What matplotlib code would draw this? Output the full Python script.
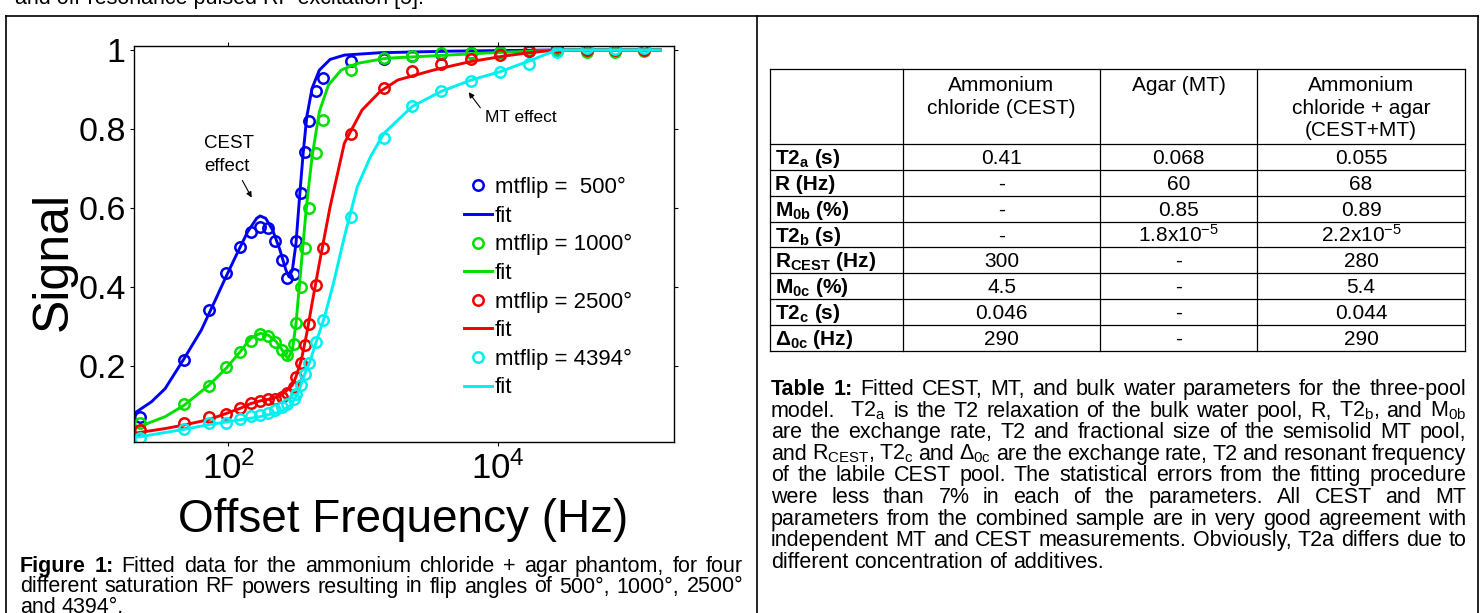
import matplotlib
matplotlib.use("Agg")
import matplotlib.pyplot as plt
from matplotlib.lines import Line2D
from matplotlib.ticker import NullLocator, LogFormatterSciNotation

plt.rcParams["font.family"] = ["Liberation Sans", "DejaVu Sans"]
plt.rcParams["mathtext.fontset"] = "custom"
plt.rcParams["mathtext.rm"] = "Liberation Sans"
plt.rcParams["mathtext.it"] = "Liberation Sans:italic"
plt.rcParams["mathtext.bf"] = "Liberation Sans:bold"
plt.rcParams["mathtext.default"] = "regular"

# measured points (offset frequency in Hz, normalised signal)
offsets = [22, 47, 72, 96, 122, 146, 172, 198, 220, 248, 272, 304, 317, 347, 369,
           397, 443, 501, 806, 1413, 2300, 3760, 6300, 10300, 17000, 27000, 45000,
           73000, 120000]
sig_500 = [0.072, 0.215, 0.342, 0.436, 0.502, 0.540, 0.553, 0.549, 0.517, 0.468,
           0.424, 0.433, 0.517, 0.639, 0.743, 0.819, 0.895, 0.928, 0.972, 0.976,
           0.985, 0.990, 0.993, 0.996, 0.998, 1.0, 1.0, 1.0, 1.0]
sig_1000 = [0.055, 0.104, 0.149, 0.197, 0.236, 0.264, 0.281, 0.276, 0.262, 0.241,
            0.228, 0.257, 0.308, 0.401, 0.500, 0.599, 0.740, 0.824, 0.949, 0.979,
            0.985, 0.992, 0.992, 0.995, 1.0, 1.0, 0.996, 0.996, 0.998]
sig_2500 = [0.038, 0.055, 0.070, 0.080, 0.095, 0.107, 0.112, 0.116, 0.118, 0.122,
            0.131, 0.148, 0.173, 0.208, 0.253, 0.306, 0.405, 0.500, 0.787, 0.903,
            0.948, 0.965, 0.976, 0.987, 0.998, 1.007, 1.0, 1.0, 1.0]
sig_4394 = [0.019, 0.040, 0.055, 0.057, 0.065, 0.073, 0.076, 0.082, 0.089, 0.097,
            0.105, 0.116, 0.129, 0.152, 0.179, 0.207, 0.262, 0.316, 0.578, 0.776,
            0.857, 0.895, 0.922, 0.943, 0.965, 0.996, 1.004, 1.002, 1.004]

# fitted curves
fit_f_500 = [20, 27, 34, 47, 63, 80, 96, 116, 139, 162, 172, 189, 213, 241, 267, 281,
             298, 317, 337, 358, 381, 417, 472, 567, 723, 1331, 4500, 28000, 158000]
fit_500 = [0.080, 0.110, 0.143, 0.219, 0.291, 0.367, 0.426, 0.485, 0.540, 0.574, 0.580,
           0.574, 0.544, 0.494, 0.443, 0.426, 0.443, 0.511, 0.629, 0.738, 0.831, 0.903,
           0.949, 0.976, 0.987, 0.993, 0.997, 1.0, 1.0]
fit_f_1000 = [20, 34, 47, 72, 96, 122, 146, 172, 198, 226, 256, 276, 298, 317, 337, 358,
              381, 417, 472, 551, 684, 902, 1470, 3710, 7900, 15000, 28000, 158000]
fit_1000 = [0.042, 0.072, 0.101, 0.152, 0.194, 0.236, 0.270, 0.283, 0.278, 0.262, 0.236,
            0.219, 0.241, 0.308, 0.409, 0.511, 0.612, 0.730, 0.844, 0.911, 0.949, 0.966,
            0.979, 0.986, 0.992, 0.996, 1.0, 1.0]
fit_f_2500 = [20, 34, 47, 72, 96, 122, 146, 172, 213, 248, 272, 298, 317, 347, 381, 417,
              472, 567, 723, 978, 1331, 1800, 3300, 6100, 11200, 17000, 27000, 158000]
fit_2500 = [0.030, 0.042, 0.051, 0.065, 0.080, 0.093, 0.105, 0.112, 0.118, 0.127, 0.139,
            0.152, 0.173, 0.215, 0.283, 0.359, 0.460, 0.603, 0.764, 0.848, 0.895, 0.924,
            0.949, 0.970, 0.985, 0.993, 1.0, 1.0]
fit_f_4394 = [20, 47, 72, 116, 172, 241, 290, 327, 369, 405, 443, 516, 600, 723, 902,
              1130, 1420, 2300, 3760, 6300, 10300, 17200, 27000, 158000]
fit_4394 = [0.019, 0.040, 0.052, 0.063, 0.072, 0.084, 0.101, 0.131, 0.181, 0.215, 0.257,
            0.325, 0.409, 0.527, 0.654, 0.730, 0.789, 0.857, 0.895, 0.924, 0.945, 0.973,
            1.0, 1.0]

flips = ["500", "1000", "2500", "4394"]
colors = ["#0000f0", "#00e000", "#f00000", "#00f0f0"]

# table 1
col_heads = [["Ammonium", "chloride (CEST)"], ["Agar (MT)"],
             ["Ammonium", "chloride + agar", "(CEST+MT)"]]
row_names = [r"T2$_{a}$ (s)", "R (Hz)", r"M$_{0b}$ (%)", r"T2$_{b}$ (s)",
             r"R$_{CEST}$ (Hz)", r"M$_{0c}$ (%)", r"T2$_{c}$ (s)", r"Δ$_{0c}$ (Hz)"]
col_cest = ["0.41", "-", "-", "-", "300", "4.5", "0.046", "290"]
col_agar = ["0.068", "60", "0.85", r"1.8x10$^{-5}$", "-", "-", "-", "-"]
col_both = ["0.055", "68", "0.89", r"2.2x10$^{-5}$", "280", "5.4", "0.044", "290"]

fig_caption = [
    "Figure 1: Fitted data for the ammonium chloride + agar phantom, for four",
    "different saturation RF powers resulting in flip angles of 500°, 1000°, 2500°",
    "and 4394°.",
]
table_caption = [
    "Table 1: Fitted CEST, MT, and bulk water parameters for the three-pool",
    r"model.  T2$_{a}$ is the T2 relaxation of the bulk water pool, R, T2$_{b}$, and M$_{0b}$",
    "are the exchange rate, T2 and fractional size of the semisolid MT pool,",
    r"and R$_{CEST}$, T2$_{c}$ and Δ$_{0c}$ are the exchange rate, T2 and resonant frequency",
    "of the labile CEST pool. The statistical errors from the fitting procedure",
    "were less than 7% in each of the parameters. All CEST and MT",
    "parameters from the combined sample are in very good agreement with",
    "independent MT and CEST measurements. Obviously, T2a differs due to",
    "different concentration of additives.",
]

W, H = 1480, 613
fig = plt.figure(figsize=(W / 100, H / 100), dpi=100)
BODY = 15.5


def fx(x):
    return x / W


def fy(y):
    return 1 - y / H


def hline(x0, x1, y, lw=1.2):
    fig.add_artist(Line2D([fx(x0), fx(x1)], [fy(y), fy(y)], transform=fig.transFigure,
                          color="k", lw=lw))


def vline(x, y0, y1, lw=1.2):
    fig.add_artist(Line2D([fx(x), fx(x)], [fy(y0), fy(y1)], transform=fig.transFigure,
                          color="k", lw=lw))


# page frame
hline(6, 1478, 15.5)
vline(6, 15.5, 613)
vline(756.5, 15.5, 613)
vline(1477.5, 15.5, 613)
fig.text(fx(15), fy(4), "and off-resonance pulsed RF excitation [5].", fontsize=BODY,
         va="baseline", ha="left")

# ---- Figure 1 ----
ax = fig.add_axes([fx(134), fy(442), (674 - 134) / W, (442 - 46) / H])
series = [(sig_500, fit_f_500, fit_500), (sig_1000, fit_f_1000, fit_1000),
          (sig_2500, fit_f_2500, fit_2500), (sig_4394, fit_f_4394, fit_4394)]
for (pts, ff, fv), flip, c in zip(series, flips, colors):
    lab = f"mtflip =  {flip}°" if flip == "500" else f"mtflip = {flip}°"
    ax.plot(offsets, pts, "o", color=c, mfc="none", ms=7.5, mew=1.8, label=lab)
    ax.plot(ff, fv, "-", color=c, lw=2.1, label="fit")

ax.set_xscale("log")
ax.set_xlim(20, 2.0e5)
ax.set_ylim(0.008, 1.01)
ax.set_xticks([1e2, 1e4])
ax.xaxis.set_major_formatter(LogFormatterSciNotation())
ax.xaxis.set_minor_locator(NullLocator())
ax.set_yticks([0.2, 0.4, 0.6, 0.8, 1.0], ["0.2", "0.4", "0.6", "0.8", "1"])
ax.tick_params(direction="out", length=3, width=0.8, top=True, right=True)
ax.tick_params(axis="x", labelsize=25, pad=4)
ax.tick_params(axis="y", labelsize=24.5, pad=3)
for sp in ax.spines.values():
    sp.set_linewidth(1.0)

fig.text(fx(54), fy(261), "Signal", rotation=90, fontsize=36, ha="center", va="center")
fig.text(fx(403), fy(532), "Offset Frequency (Hz)", fontsize=33, ha="center",
         va="baseline")

ax.legend(loc="upper left", bbox_to_anchor=(fx(464), fy(177)),
          bbox_transform=fig.transFigure, frameon=False, fontsize=16, borderpad=0,
          borderaxespad=0, handlelength=1.25, handletextpad=0.15, labelspacing=0.34,
          numpoints=1)

fig.text(fx(204), fy(148), "CEST", fontsize=13.5, ha="left", va="baseline")
fig.text(fx(204), fy(171), "effect", fontsize=13.5, ha="left", va="baseline")
ax.annotate("", xy=(fx(253), fy(200)), xycoords="figure fraction",
            xytext=(fx(241), fy(178)), textcoords="figure fraction",
            arrowprops=dict(arrowstyle="-|>", color="k", lw=0.8, mutation_scale=8))
fig.text(fx(485), fy(122), "MT effect", fontsize=12.5, ha="left", va="baseline")
ax.annotate("", xy=(fx(467), fy(90)), xycoords="figure fraction",
            xytext=(fx(482), fy(110)), textcoords="figure fraction",
            arrowprops=dict(arrowstyle="-|>", color="k", lw=0.8, mutation_scale=8))

# ---- Table 1 ----
tx = [770, 903, 1100, 1257, 1465]
ty = [69, 144, 170, 196, 222, 247, 273, 299, 325, 351]
for y in ty:
    hline(tx[0], tx[-1], y, lw=0.9)
for x in tx:
    vline(x, ty[0], ty[-1], lw=0.9)

TAB = 15
for j, head in enumerate(col_heads):
    cx = (tx[j + 1] + tx[j + 2]) / 2
    for k, ln in enumerate(head):
        fig.text(fx(cx), fy(91 + 22.5 * k), ln, fontsize=TAB, ha="center", va="baseline")

for i, name in enumerate(row_names):
    yb = (ty[i + 1] + ty[i + 2]) / 2 + 7
    fig.text(fx(775), fy(yb), name, fontsize=TAB, fontweight="bold", ha="left",
             va="baseline")
    for j, col in enumerate([col_cest, col_agar, col_both]):
        cx = (tx[j + 1] + tx[j + 2]) / 2
        fig.text(fx(cx), fy(yb), col[i], fontsize=TAB, ha="center", va="baseline")


# ---- justified captions ----
renderer = fig.canvas.get_renderer()


def justify(lines, x0, x1, y0, pitch, size, nbold):
    sp = fig.text(0, 0, "n n", fontsize=size)
    sp2 = fig.text(0, 0, "nn", fontsize=size)
    space = sp.get_window_extent(renderer).width - sp2.get_window_extent(renderer).width
    sp.remove()
    sp2.remove()
    for i, line in enumerate(lines):
        words = line.split(" ")
        items = []
        for j, w in enumerate(words):
            bold = i == 0 and j < nbold
            items.append(fig.text(0, 0, w, fontsize=size, ha="left", va="baseline",
                                  fontweight="bold" if bold else "normal"))
        widths = [t.get_window_extent(renderer).width if t.get_text() else 0
                  for t in items]
        if i == len(lines) - 1 or len(items) < 2:
            gap = space
        else:
            gap = max((x1 - x0 - sum(widths)) / (len(items) - 1), 0.6 * space)
        x = x0
        for t, w in zip(items, widths):
            t.set_position((fx(x), fy(y0 + pitch * i)))
            x += w + gap


justify(fig_caption, 20, 743, 572, 20.5, BODY, 2)
justify(table_caption, 771, 1466, 395, 21.6, BODY, 2)

fig.savefig("out.png", dpi=100)
